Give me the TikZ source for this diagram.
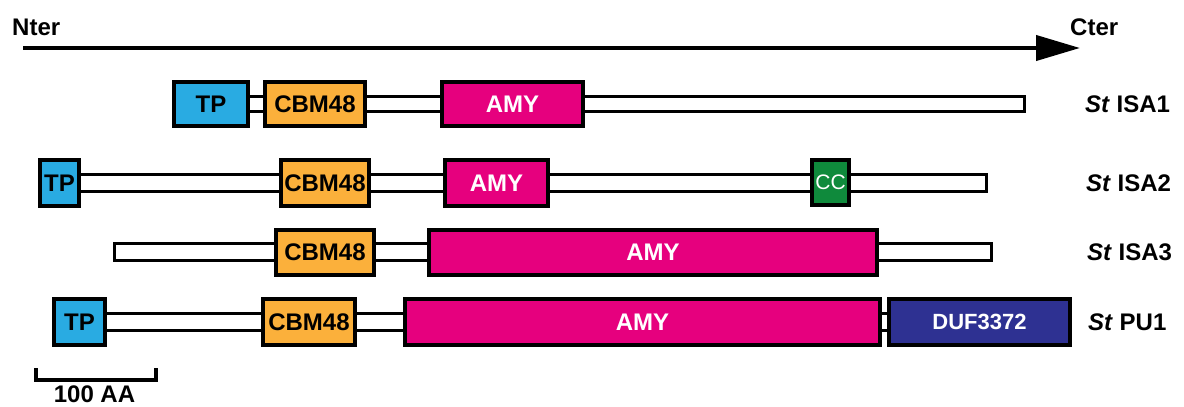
\documentclass[tikz,border=0pt]{standalone}
\usepackage{fontspec}
\setmainfont{Liberation Sans}
\usepackage[dvipsnames,svgnames]{xcolor}
\usetikzlibrary{positioning,arrows.meta}
\definecolor{tpblue}{HTML}{29ABE2}
\definecolor{cbmorange}{HTML}{FBB03B}
\definecolor{amypink}{HTML}{E6007E}
\definecolor{ccgreen}{HTML}{0F8A3C}
\definecolor{dufnavy}{HTML}{2E3192}
\tikzset{dombox/.style={draw=black,line width=4pt,inner sep=0pt,font=\fontsize{24}{24}\selectfont\bfseries},
         backbone/.style={draw=black,fill=white,line width=3pt},
         lab/.style={inner sep=0pt,anchor=west,font=\fontsize{24}{24}\selectfont\bfseries}}

\begin{document}
\begin{tikzpicture}[x=1pt,y=-1pt] %按像素坐标
    \useasboundingbox (0,0) rectangle (1184,407);
    % 方向箭头
    \coordinate (nstart) at (23,48);
    \coordinate (ctip) at (1080,48);
    \draw[line width=4pt,-{Triangle[length=44pt,width=25pt]}] (nstart) -- (ctip);
    \node[lab] (nter) at (12,27) {Nter};
    \node[lab] (cter) at (1070,27) {Cter};
    % 主链
    \coordinate (isa1start) at (211,96.5);   \coordinate (isa1end) at (1024.5,111.5);
    \coordinate (isa2start) at (59.5,174.5); \coordinate (isa2end) at (986.5,191.5);
    \coordinate (isa3start) at (114.5,243.5);\coordinate (isa3end) at (991.5,260.5);
    \coordinate (pu1start) at (79.5,313.5);  \coordinate (pu1end) at (979.5,330.5);
    \draw[backbone] (isa1start) rectangle (isa1end);
    \draw[backbone] (isa2start) rectangle (isa2end);
    \draw[backbone] (isa3start) rectangle (isa3end);
    \draw[backbone] (pu1start) rectangle (pu1end);
    % St ISA1
    \node[dombox,fill=tpblue,minimum width=74pt,minimum height=44pt] (tp1) at (211,104) {TP};
    \node[dombox,fill=cbmorange,minimum width=100pt,minimum height=44pt] (cbm1) at (315,104) {CBM48};
    \node[dombox,fill=amypink,text=white,minimum width=141pt,minimum height=44pt] (amy1) at (512.5,104) {AMY};
    % St ISA2
    \node[dombox,fill=tpblue,minimum width=39pt,minimum height=46pt] (tp2) at (59.5,183) {TP};
    \node[dombox,fill=cbmorange,minimum width=88pt,minimum height=46pt] (cbm2) at (325,183) {CBM48};
    \node[dombox,fill=amypink,text=white,minimum width=103pt,minimum height=46pt] (amy2) at (496.5,183) {AMY};
    \node[dombox,fill=ccgreen,text=white,minimum width=37pt,minimum height=45pt,font=\fontsize{21}{21}\selectfont] (cc2) at (830.5,182.5) {CC};
    % St ISA3
    \node[dombox,fill=cbmorange,minimum width=98pt,minimum height=45pt] (cbm3) at (325,252.5) {CBM48};
    \node[dombox,fill=amypink,text=white,minimum width=448pt,minimum height=45pt] (amy3) at (653,252.5) {AMY};
    % St PU1
    \node[dombox,fill=tpblue,minimum width=51pt,minimum height=46pt] (tp4) at (79.5,322) {TP};
    \node[dombox,fill=cbmorange,minimum width=92pt,minimum height=46pt] (cbm4) at (309,322) {CBM48};
    \node[dombox,fill=amypink,text=white,minimum width=475pt,minimum height=46pt] (amy4) at (642.5,322) {AMY};
    \node[dombox,fill=dufnavy,text=white,minimum width=181pt,minimum height=46pt,font=\fontsize{22}{22}\selectfont\bfseries] (duf4) at (979.5,322) {DUF3372};
    % 名称
    \node[lab] (isa1) at (1085,104) {\textit{St} ISA1};
    \node[lab] (isa2) at (1086,183) {\textit{St} ISA2};
    \node[lab] (isa3) at (1087,252.5) {\textit{St} ISA3};
    \node[lab] (pu1) at (1088,322) {\textit{St} PU1};
    % 比例尺
    \coordinate (sbl) at (36,368);
    \coordinate (sbr) at (156,368);
    \draw[line width=4pt] (sbl) -- ++(0,11.5) -| (sbr);
    \node[inner sep=0pt,font=\fontsize{24}{24}\selectfont\bfseries] (sblab) at (94.5,394.5) {100 AA};
\end{tikzpicture}
\end{document}
